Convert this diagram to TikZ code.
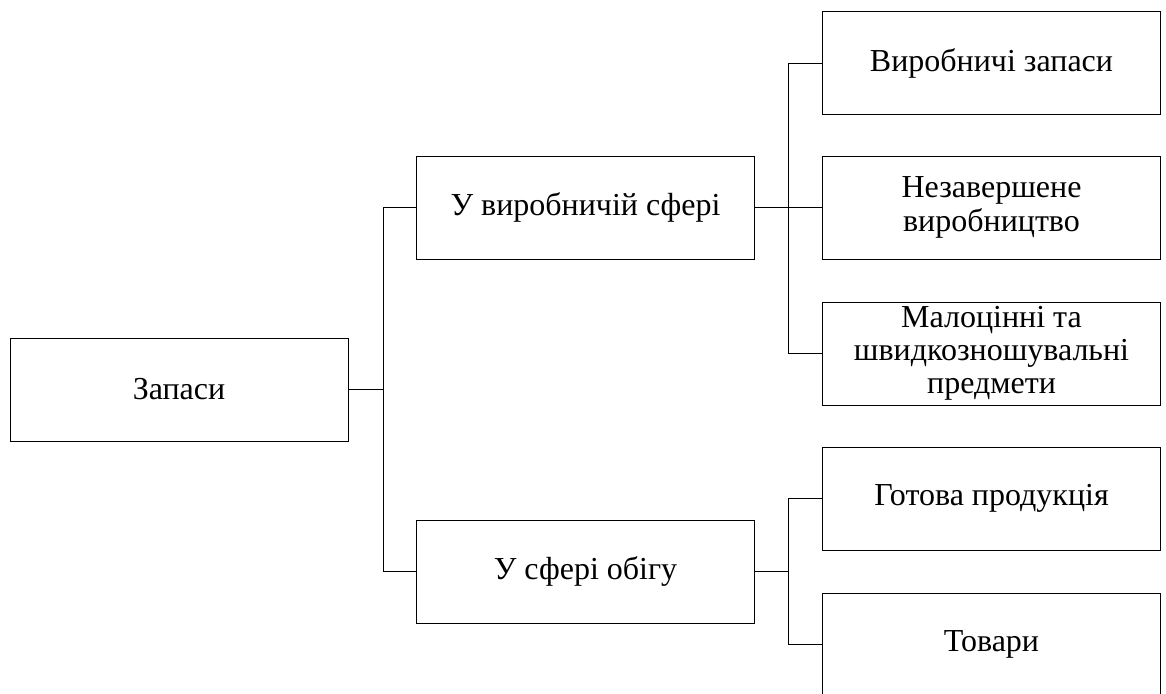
\documentclass[tikz,border=0pt]{standalone}
\usepackage{fontspec}
\setmainfont{Liberation Serif}
\begin{document}
\begin{tikzpicture}[x=1pt,y=-1pt,
  box/.style={draw, line width=0.9pt, minimum width=338pt, minimum height=103pt, align=center, inner sep=0pt, font=\fontsize{32}{34}\selectfont},
  conn/.style={draw, line width=1pt}]
\useasboundingbox (0,0) rectangle (1166,693);
\clip (0,0) rectangle (1166,693);
\fill[white] (0,0) rectangle (1166,693);
\node[box] (zap) at (179,389.5) {Запаси};
\node[box] (b1) at (585.5,207.5) {У виробничій сфері};
\node[box] (b2) at (585.5,571.5) {У сфері обігу};
\node[box] (c1) at (991.5,63) {Виробничі запаси};
\node[box] (c2) at (991.5,207.5) {Незавершене\\виробництво};
\node[box] (c3) at (991.5,353.5) {\raisebox{-3pt}{\begin{tabular}{@{}c@{}}Малоцінні та\\[-1pt]швидкозношувальні\\[-1pt]предмети\end{tabular}}};
\node[box] (c4) at (991.5,498.5) {Готова продукція};
\node[box] (c5) at (991.5,644.5) {Товари};
\coordinate (j1) at (383.5,389.5);
\coordinate (j2) at (788.5,207.5);
\coordinate (j3) at (788.5,571.5);
\draw[conn] (zap.east) -- (j1);
\draw[conn] (b1.west) -| (j1) |- (b2.west);
\draw[conn] (b1.east) -- (j2);
\draw[conn] (c1.west) -| (j2) |- (c3.west);
\draw[conn] (c2.west) -- (j2);
\draw[conn] (b2.east) -- (j3);
\draw[conn] (c4.west) -| (j3) |- (c5.west);
\end{tikzpicture}
\end{document}
